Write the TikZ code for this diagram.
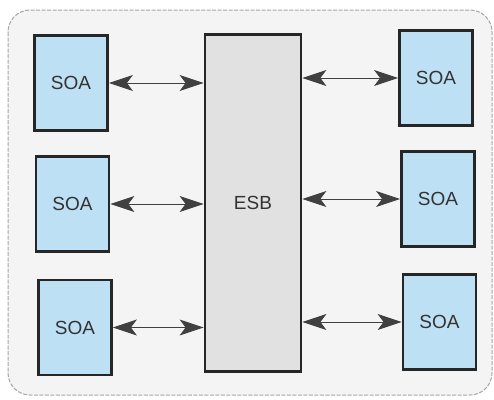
\documentclass[tikz,border=0pt]{standalone}
\usepackage{fontspec}
\setmainfont{Liberation Sans}
\usetikzlibrary{arrows.meta}
\definecolor{soablue}{HTML}{BDE0F5}
\definecolor{esbgray}{HTML}{E1E1E1}
\definecolor{panelgray}{HTML}{F4F4F4}
\begin{document}
\begin{tikzpicture}[
  x=1pt, y=-1pt,
  soabox/.style={draw=black!85, line width=2.8pt, fill=soablue, minimum width=73pt, minimum height=95pt, inner sep=0pt, font=\fontsize{19}{19}\selectfont, text=black!80},
  esbbox/.style={soabox, fill=esbgray, minimum width=96pt, minimum height=337pt},
  tip/.tip={Stealth[length=24pt,width=16pt,inset=6pt]},
  link/.style={tip-tip, line width=0.9pt, draw=black!75}
]
\useasboundingbox (0,0) rectangle (494,399);
\draw[draw=gray!70, fill=panelgray, line width=1pt, dash pattern=on 4pt off 1.5pt, rounded corners=22pt] (8,10) rectangle (492,395);
\node[esbbox] (esb) at (253,203) {ESB};
\node[soabox] (l1) at (71,83)    {SOA};
\node[soabox] (l2) at (72.5,204) {SOA};
\node[soabox] (l3) at (75,327.5) {SOA};
\node[soabox] (r1) at (436,78)   {SOA};
\node[soabox] (r2) at (438,199)  {SOA};
\node[soabox] (r3) at (439.5,322) {SOA};
\draw[link] (l1.east) -- (esb.west |- l1.east);
\draw[link] (l2.east) -- (esb.west |- l2.east);
\draw[link] (l3.east) -- (esb.west |- l3.east);
\draw[link] (esb.east |- r1.west) -- (r1.west);
\draw[link] (esb.east |- r2.west) -- (r2.west);
\draw[link] (esb.east |- r3.west) -- (r3.west);
\end{tikzpicture}
\end{document}
